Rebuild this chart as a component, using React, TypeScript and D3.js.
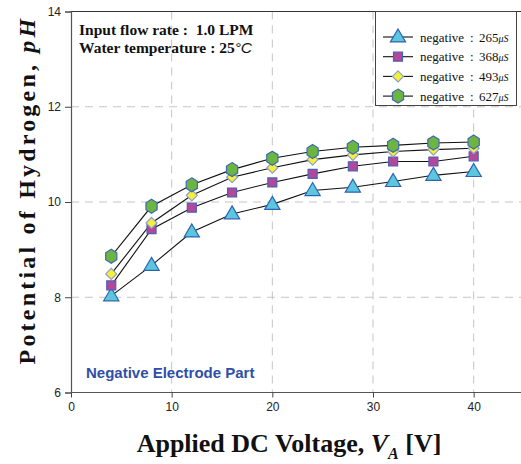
import React, { useEffect, useRef } from 'react';
import * as d3 from 'd3';

const voltages = [4, 8, 12, 16, 20, 24, 28, 32, 36, 40];
const ph265 = [8.03, 8.67, 9.37, 9.75, 9.95, 10.24, 10.31, 10.43, 10.56, 10.64];
const ph368 = [8.25, 9.43, 9.88, 10.2, 10.41, 10.59, 10.75, 10.85, 10.85, 10.96];
const ph493 = [8.49, 9.56, 10.14, 10.52, 10.72, 10.89, 10.99, 11.06, 11.1, 11.13];
const ph627 = [8.86, 9.91, 10.36, 10.68, 10.92, 11.06, 11.15, 11.19, 11.24, 11.26];
const conductivities = ['265', '368', '493', '627'];
const xTicks = [0, 10, 20, 30, 40];
const yTicks = [6, 8, 10, 12, 14];

const W = 521;
const H = 464;

const markerStyles = [
  { shape: 'triangle', fill: '#5cc6df', stroke: '#2f63b0' },
  { shape: 'square', fill: '#b2489c', stroke: '#4d5fb0' },
  { shape: 'diamond', fill: '#f6ee3c', stroke: '#8aa0c8' },
  { shape: 'hexagon', fill: '#6cb540', stroke: '#3d6ab0' },
];

function markerPath(shape: string) {
  if (shape === 'triangle') {
    const r = 8;
    return `M0,${-r}L${r * 0.95},${r * 0.62}L${-r * 0.95},${r * 0.62}Z`;
  }
  if (shape === 'square') return 'M-4.5,-4.5L4.5,-4.5L4.5,4.5L-4.5,4.5Z';
  if (shape === 'diamond') return 'M0,-5.5L5.5,0L0,5.5L-5.5,0Z';
  const r = 7;
  const pts = d3.range(6).map(i => {
    const a = (Math.PI / 3) * i - Math.PI / 2;
    return [r * 0.92 * Math.cos(a), r * Math.sin(a)];
  });
  return 'M' + pts.map(p => p.join(',')).join('L') + 'Z';
}

export default function App() {
  const ref = useRef<SVGSVGElement | null>(null);

  useEffect(() => {
    const svg = d3.select(ref.current);
    svg.selectAll('*').remove();

    const x = d3.scaleLinear().domain([0, 45]).range([71, 524]);
    const y = d3.scaleLinear().domain([6, 14]).range([392.5, 11.5]);

    const series = [ph265, ph368, ph493, ph627];

    // grid
    const grid = svg.append('g');
    grid
      .selectAll('.vg')
      .data(xTicks.filter(t => t > 0))
      .enter()
      .append('line')
      .attr('x1', d => x(d))
      .attr('x2', d => x(d))
      .attr('y1', y(14))
      .attr('y2', y(6))
      .attr('stroke', '#c4c4c4')
      .attr('stroke-dasharray', '8,6');
    grid
      .selectAll('.hg')
      .data(yTicks.filter(t => t > 6 && t < 14))
      .enter()
      .append('line')
      .attr('x1', x(0))
      .attr('x2', W)
      .attr('y1', d => y(d))
      .attr('y2', d => y(d))
      .attr('stroke', '#c4c4c4')
      .attr('stroke-dasharray', '8,6');

    // top border
    svg
      .append('line')
      .attr('x1', x(0))
      .attr('x2', W)
      .attr('y1', y(14))
      .attr('y2', y(14))
      .attr('stroke', '#333')
      .attr('stroke-width', 1);

    // axes
    const xAxis = svg
      .append('g')
      .attr('transform', `translate(0,${y(6)})`)
      .call(d3.axisBottom(x).tickValues(xTicks).tickSize(5).tickPadding(5));
    const yAxis = svg
      .append('g')
      .attr('transform', `translate(${x(0)},0)`)
      .call(d3.axisLeft(y).tickValues(yTicks).tickSize(6).tickPadding(4));
    [xAxis, yAxis].forEach(a => {
      a.select('.domain').attr('stroke', '#555').attr('stroke-width', 1.2);
      a.selectAll('.tick line').attr('stroke', '#444');
      a.selectAll('.tick text')
        .attr('fill', '#222')
        .style('font-family', 'Arial, "Liberation Sans", sans-serif')
        .style('font-size', '12px');
    });
    xAxis.select('.domain').attr('d', `M${x(0)},0H${W}`);

    // lines
    const line = d3
      .line<number>()
      .x((d, i) => x(voltages[i]))
      .y(d => y(d));
    series.forEach(s => {
      svg
        .append('path')
        .attr('d', line(s))
        .attr('fill', 'none')
        .attr('stroke', '#111')
        .attr('stroke-width', 1.1);
    });

    // markers
    series.forEach((s, k) => {
      const m = markerStyles[k];
      svg
        .append('g')
        .selectAll('path')
        .data(s)
        .enter()
        .append('path')
        .attr('transform', (d, i) => `translate(${x(voltages[i])},${y(d)})`)
        .attr('d', markerPath(m.shape))
        .attr('fill', m.fill)
        .attr('stroke', m.stroke)
        .attr('stroke-width', 1.2);
    });

    const serif = '"Liberation Serif", "Times New Roman", serif';

    // legend
    const lg = svg.append('g');
    lg.append('rect')
      .attr('x', 375.5)
      .attr('y', 11.5)
      .attr('width', 141)
      .attr('height', 94)
      .attr('fill', '#fff')
      .attr('stroke', '#444')
      .attr('stroke-width', 1);
    conductivities.forEach((c, k) => {
      const cy = 37 + k * 19.7;
      const m = markerStyles[k];
      lg.append('line')
        .attr('x1', 383)
        .attr('x2', 413)
        .attr('y1', cy)
        .attr('y2', cy)
        .attr('stroke', '#111')
        .attr('stroke-width', 1.1);
      lg.append('path')
        .attr('transform', `translate(398,${cy})`)
        .attr('d', markerPath(m.shape))
        .attr('fill', m.fill)
        .attr('stroke', m.stroke)
        .attr('stroke-width', 1.2);
      const t = lg
        .append('text')
        .attr('x', 420)
        .attr('y', cy + 4.5)
        .style('font-family', serif)
        .style('font-size', '13px')
        .attr('fill', '#111');
      t.append('tspan').text('negative');
      t.append('tspan').attr('x', 470).text(':');
      t.append('tspan').attr('x', 479).text(c);
      t.append('tspan')
        .style('font-style', 'italic')
        .style('font-size', '10px')
        .text('μS');
    });

    // annotation
    svg
      .append('text')
      .attr('x', 79)
      .attr('y', 35)
      .style('font-family', serif)
      .style('font-weight', 'bold')
      .style('font-size', '15.5px')
      .style('white-space', 'pre')
      .attr('fill', '#111')
      .text('Input flow rate :  1.0 LPM');
    const wt = svg
      .append('text')
      .attr('x', 79)
      .attr('y', 53)
      .style('font-family', serif)
      .style('font-weight', 'bold')
      .style('font-size', '15.5px')
      .attr('fill', '#111');
    wt.append('tspan').text('Water temperature : 25');
    wt.append('tspan')
      .style('font-weight', 'normal')
      .style('font-style', 'italic')
      .style('font-family', 'Arial, sans-serif')
      .text('°C');

    svg
      .append('text')
      .attr('x', 86)
      .attr('y', 378)
      .style('font-family', 'Arial, "Liberation Sans", sans-serif')
      .style('font-weight', 'bold')
      .style('font-size', '15px')
      .attr('fill', '#2f4fa6')
      .text('Negative Electrode Part');

    // axis titles
    const xt = svg
      .append('text')
      .attr('x', 289)
      .attr('y', 452)
      .attr('text-anchor', 'middle')
      .style('font-family', serif)
      .style('font-weight', 'bold')
      .style('font-size', '26px')
      .attr('fill', '#111');
    xt.append('tspan').text('Applied DC Voltage, ');
    xt.append('tspan').style('font-style', 'italic').text('V');
    xt.append('tspan')
      .style('font-style', 'italic')
      .style('font-size', '16px')
      .attr('dy', 7)
      .text('A');
    xt.append('tspan').attr('dy', -7).text(' [V]');

    const yt = svg
      .append('text')
      .attr('transform', 'translate(35,190) rotate(-90)')
      .attr('text-anchor', 'middle')
      .style('font-family', serif)
      .style('font-weight', 'bold')
      .style('font-size', '24px')
      .style('letter-spacing', '3.2px')
      .attr('fill', '#111');
    yt.append('tspan').text('Potential of Hydrogen, ');
    yt.append('tspan').style('font-style', 'italic').text('pH');
  }, []);

  return (
    <svg
      ref={ref}
      width={W}
      height={H}
      style={{ position: 'absolute', left: 0, top: 0, background: '#fff' }}
    />
  );
}
